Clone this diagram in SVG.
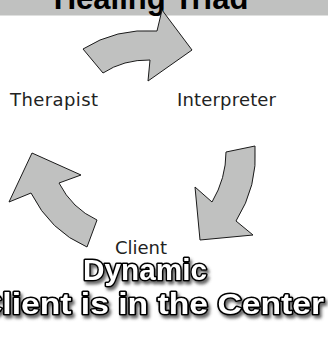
<svg xmlns="http://www.w3.org/2000/svg" width="328" height="341" viewBox="0 0 328 341">
<defs>
<style>
.arrow{fill:#c0c1c0;stroke:#1a1a1a;stroke-width:1;stroke-linejoin:miter}
.lbl{font-family:"DejaVu Sans",Verdana,sans-serif;font-size:18px;fill:#222}
.big{font-family:"Liberation Sans",Arial,sans-serif;font-weight:bold;fill:#fff;stroke:#000;stroke-width:3;paint-order:stroke;stroke-linejoin:round;filter:url(#sh)}
</style>
<filter id="sh" x="-10%" y="-30%" width="120%" height="170%">
<feDropShadow dx="2" dy="3" stdDeviation="1.6" flood-color="#444" flood-opacity="0.8"/>
</filter>
</defs>
<rect width="328" height="341" fill="#fff"/>
<g id="title">
<rect x="0" y="0" width="328" height="15.5" fill="#c0c1c0"/>
<text x="151" y="8.5" text-anchor="middle" font-family="'Liberation Sans',Arial,sans-serif" font-weight="bold" font-size="31" fill="#000">Healing Triad</text>
</g>
<g id="connectors">
<path class="arrow" d="M83,49 Q116,28 157,31 L162,10 L192,50 L148,81 L150,60 Q123.5,59.5 103,73 Z"/>
<path class="arrow" d="M32,153 L81,175 L59,183 Q72,208.5 97,220 L87,247 Q50,231 31,193 L9,202 Z"/>
<path class="arrow" d="M226,152 L255,146 Q258,186 236,221 L253,235 L200,240 L195,187 L212,202 Q226,178.4 226,152 Z"/>
</g>
<g id="therapist"><text class="lbl" x="10" y="106" textLength="88">Therapist</text></g>
<g id="interpreter"><text class="lbl" x="177" y="106" textLength="99">Interpreter</text></g>
<g id="client"><text class="lbl" x="115" y="254" textLength="52">Client</text></g>
<g id="dynamic"><text class="big" x="83" y="280" font-size="29" textLength="124" lengthAdjust="spacingAndGlyphs">Dynamic</text></g>
<g id="center"><text class="big" x="-22" y="314" font-size="29" textLength="346" lengthAdjust="spacingAndGlyphs">Client is in the Center</text></g>
</svg>
